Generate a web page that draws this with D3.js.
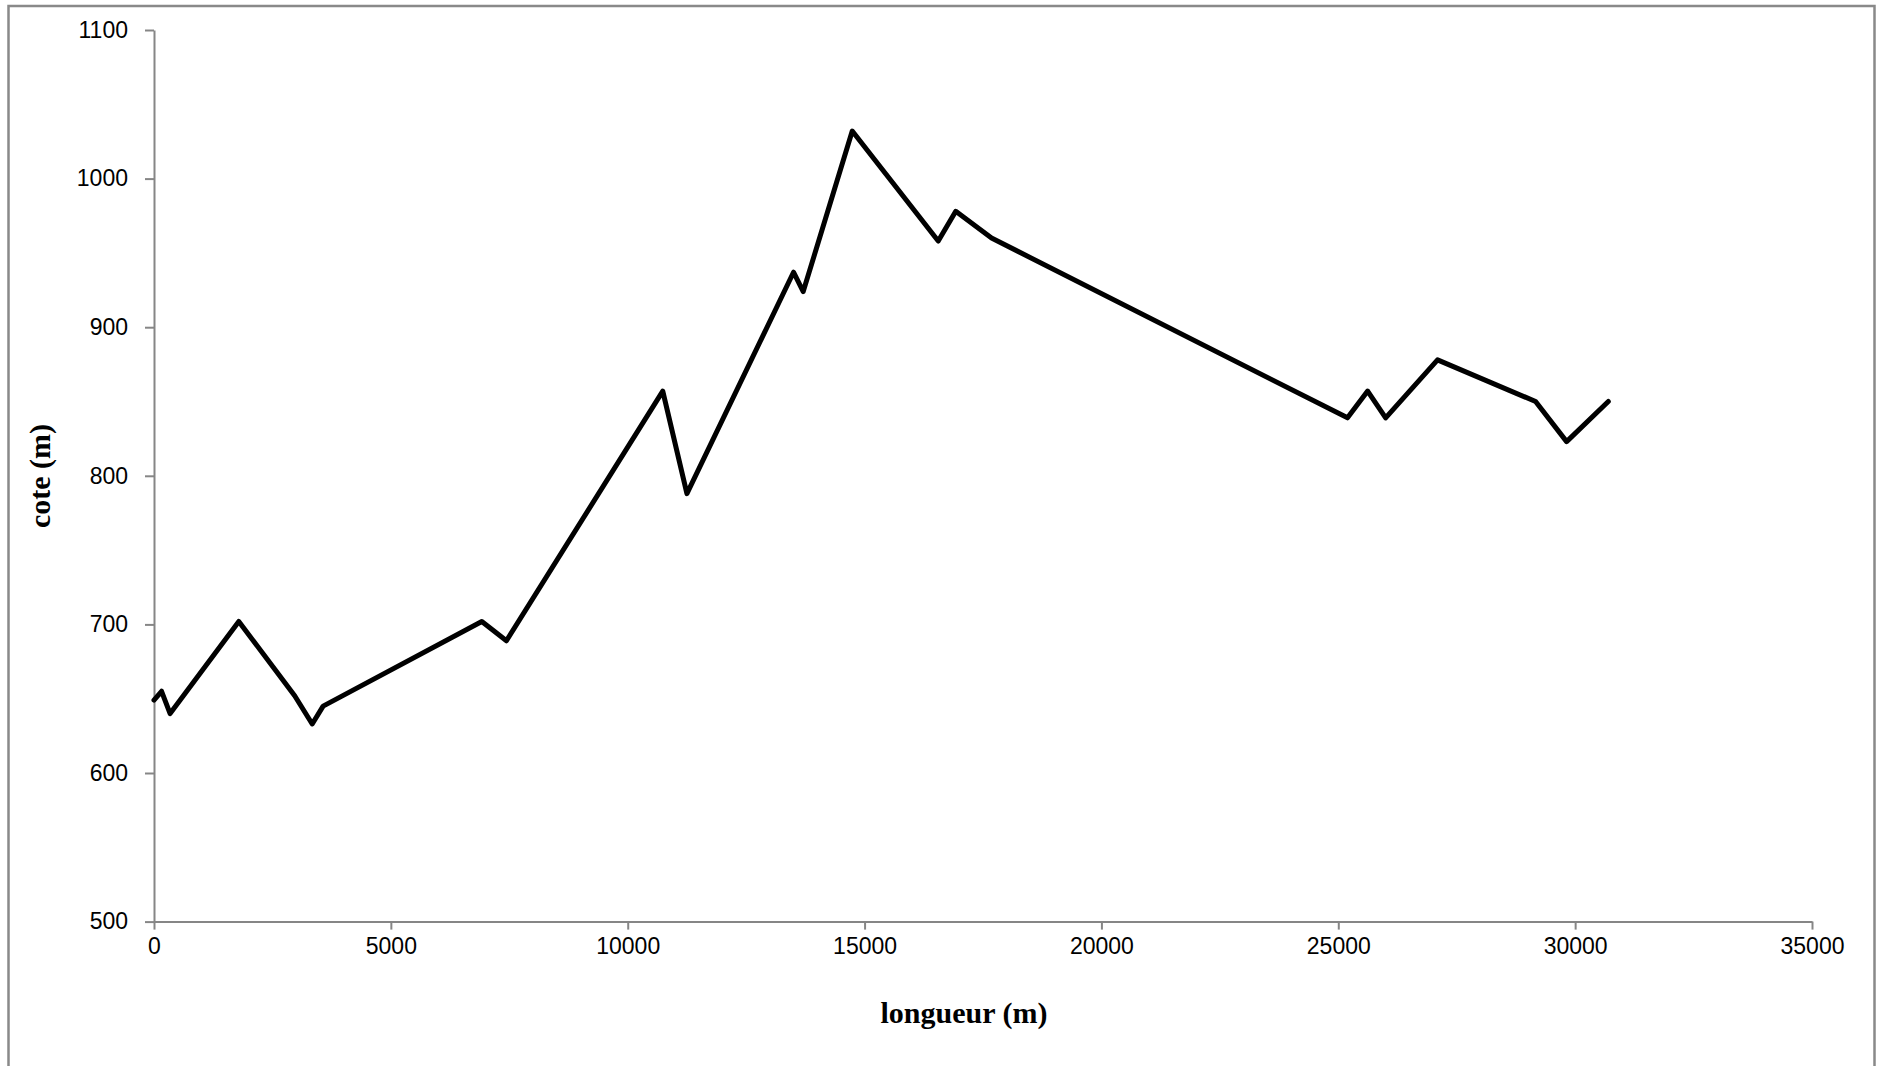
<!DOCTYPE html>
<html>
<head>
<meta charset="utf-8">
<script src="https://cdn.jsdelivr.net/npm/d3@7"></script>
<style>
  html, body { margin: 0; padding: 0; background: #fff; }
  svg { display: block; }
</style>
</head>
<body>
<script>
// Longitudinal profile: distance along the route (m) vs. elevation (m)
const distances = [0, 160, 340, 1790, 2970, 3340, 3570, 6920, 7440, 10740, 11250, 13500, 13705, 14740, 16555, 16925, 17680, 25195, 25620, 26000, 27095, 29165, 29820, 30700];
const elevations = [649, 655, 640, 702, 652, 633, 645, 702, 689, 857, 788, 937, 924, 1032, 958, 978, 960, 839, 857, 839, 878, 850, 823, 850];
const xTicks = [0, 5000, 10000, 15000, 20000, 25000, 30000, 35000];
const yTicks = [500, 600, 700, 800, 900, 1000, 1100];
const xTitle = "longueur (m)";
const yTitle = "cote (m)";

const W = 1885, H = 1066;
const svg = d3.select("body").append("svg").attr("width", W).attr("height", H);

// outer frame
svg.append("rect")
  .attr("x", 8.5).attr("y", 6).attr("width", 1866).attr("height", 1080)
  .attr("fill", "none").attr("stroke", "#898989").attr("stroke-width", 2.5);

const x = d3.scaleLinear().domain([0, 35000]).range([154, 1812]);
const y = d3.scaleLinear().domain([500, 1100]).range([921.6, 30]);

const axisColor = "#868686";
const tickFont = "'Liberation Sans', Arial, sans-serif";

// x axis
const gx = svg.append("g").attr("transform", `translate(0,${y(500)})`)
  .call(d3.axisBottom(x).tickValues(xTicks).tickFormat(d3.format("d")).tickSizeInner(8).tickSizeOuter(0).tickPadding(22));
// y axis
const gy = svg.append("g").attr("transform", `translate(${x(0)},0)`)
  .call(d3.axisLeft(y).tickValues(yTicks).tickFormat(d3.format("d")).tickSizeInner(9).tickSizeOuter(0).tickPadding(17));

[gx, gy].forEach(g => {
  g.select(".domain").attr("stroke", axisColor).attr("stroke-width", 2);
  g.selectAll(".tick line").attr("stroke", axisColor).attr("stroke-width", 2);
  g.selectAll(".tick text").attr("fill", "#000").style("font-family", tickFont).style("font-size", "23px");
});
gx.selectAll(".tick text").attr("dy", "0.1em");

// profile line
const line = d3.line().x((d, i) => x(distances[i])).y(d => y(d));
svg.append("path")
  .datum(elevations)
  .attr("d", line)
  .attr("fill", "none")
  .attr("stroke", "#000")
  .attr("stroke-width", 5)
  .attr("stroke-linejoin", "round")
  .attr("stroke-linecap", "round");

// axis titles
svg.append("text")
  .attr("x", 964).attr("y", 1023)
  .attr("text-anchor", "middle")
  .style("font-family", "'Liberation Serif', 'Times New Roman', serif")
  .style("font-weight", "bold").style("font-size", "30px")
  .text(xTitle);

svg.append("text")
  .attr("transform", "translate(50,476) rotate(-90)")
  .attr("text-anchor", "middle")
  .style("font-family", "'Liberation Serif', 'Times New Roman', serif")
  .style("font-weight", "bold").style("font-size", "30px")
  .text(yTitle);
</script>
</body>
</html>
